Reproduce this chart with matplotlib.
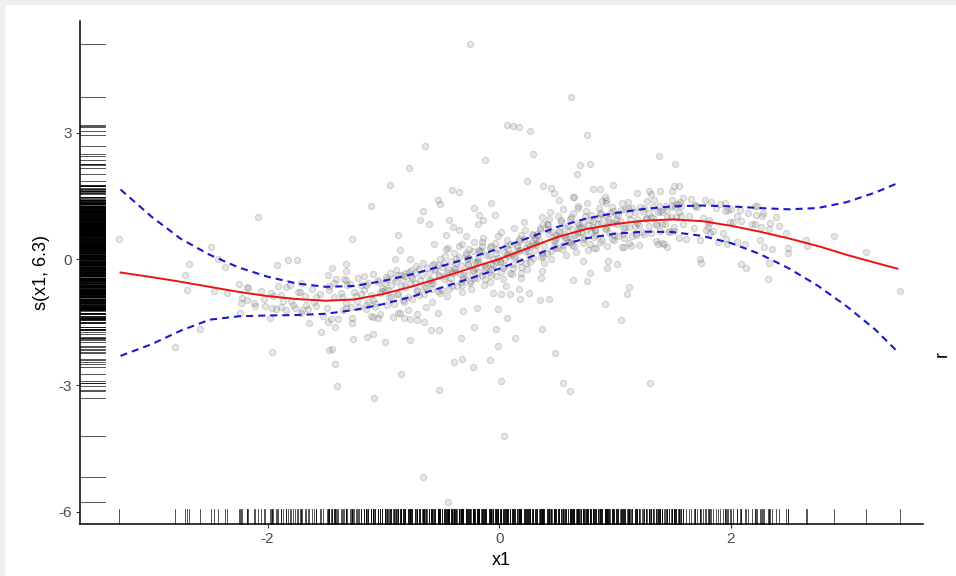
import matplotlib.pyplot as plt
from matplotlib.patches import Rectangle
from matplotlib.transforms import blended_transform_factory

# partial residuals (x1, residual), sparse points left of the bulk
left_pts = [
    (-3.28, 0.48), (-2.80, -2.10), (-2.71, -0.38), (-2.70, -0.73), (-2.68, -0.13),
    (-2.58, -1.65), (-2.49, 0.29), (-2.46, -0.77), (-2.43, -0.01), (-2.37, -0.20),
    (-2.35, -0.80), (-2.25, -0.59), (-2.24, -1.29), (-2.23, -1.04), (-2.22, -0.92),
    (-2.18, -0.67), (-2.18, -0.97), (-2.11, -1.11), (-2.08, 1.00), (-2.03, -0.96),
    (-1.98, -1.40), (-1.96, -2.21), (-1.96, -1.16), (-1.95, -0.88), (-1.92, -0.15),
    (-1.91, -0.63), (-1.88, -1.15), (-1.87, -1.00), (-1.84, -0.67), (-1.82, -0.02),
    (-1.80, -1.00), (-1.76, -1.16), (-1.75, -0.02), (-1.72, -0.78), (-1.71, -0.56),
    (-1.70, -1.21), (-1.67, -1.09), (-1.64, -1.51), (-1.60, -1.01), (-1.58, -0.89),
    (-1.54, -1.74), (-1.48, -0.37), (-1.48, -1.49), (-1.47, -0.74), (-1.47, -2.16),
]

# points scattered away from the fitted band
sparse_pts = [
    (-0.25, 5.11), (0.62, 3.85), (0.04, -4.20), (-0.66, -5.18), (-0.44, -5.76),
    (-0.64, 2.68), (-0.12, 2.36), (-0.78, 2.16), (-0.94, 1.76), (-0.41, 1.65),
    (-0.35, 1.59), (-1.11, 1.25), (-0.53, 1.39), (-0.51, 1.31), (-0.66, 1.13),
    (-0.68, 0.93), (-0.61, 0.83), (-1.27, 0.48), (-0.87, 0.56), (-0.86, 0.21),
    (-0.90, 0.01), (-0.77, -0.01), (-0.43, 0.92), (-0.40, 0.75), (-0.35, 0.69),
    (-0.46, 0.57), (-0.29, 0.54), (-0.56, 0.36), (-0.22, 1.21), (-0.17, 1.05),
    (-0.14, 0.92), (-0.18, 0.82), (-0.07, 1.32), (-0.04, 1.05), (-0.32, 0.36),
    (-0.15, 0.40), (-0.44, 0.25), (-1.44, -0.22), (-1.32, -0.11), (-1.32, -0.28),
    (-1.32, -0.50), (-1.15, -0.62), (-0.98, -0.43), (-1.43, -0.58), (-1.42, -1.61),
    (-1.26, -1.91), (-1.14, -1.84), (-1.09, -1.79), (-0.99, -1.96), (-1.44, -2.14),
    (-1.42, -2.49), (-1.40, -3.01), (-1.08, -3.29), (-0.85, -2.72), (-0.77, -1.92),
    (-0.52, -3.10), (-0.59, -1.69), (-0.52, -1.69), (-0.71, -1.30), (-0.71, -1.45),
    (-0.65, -1.50), (-0.33, -1.88), (-0.22, -1.62), (-0.39, -2.45), (-0.32, -2.37),
    (-0.23, -2.56), (-0.08, -2.39), (-0.03, -1.67), (-0.01, -2.07), (-0.31, -1.24),
    (-0.53, -1.27), (-0.82, -1.41), (-0.77, -1.43), (-1.09, -1.37), (-1.05, -1.39),
    (-1.27, -1.51), (-0.87, -1.27), (-0.19, -1.17), (0.02, -2.90), (0.55, -2.94),
    (0.61, -3.14), (0.48, -2.22), (0.14, -1.87), (0.37, -1.66), (1.05, -1.44),
    (0.91, -1.06), (1.10, -0.83), (1.12, -0.67), (0.35, -0.98), (0.43, -0.96),
    (0.18, -0.96), (0.26, -0.81), (0.07, -1.40), (1.30, -2.95),
    (-0.87, -0.38), (-0.81, -0.34), (-0.76, -0.25), (-0.58, -0.15), (-0.23, 0.19),
    (-0.17, 0.19), (-0.07, 0.31), (-0.26, 0.02),
    (0.07, 3.19), (0.12, 3.16), (0.17, 3.13), (0.27, 3.05), (0.76, 2.95),
    (0.29, 2.49), (0.70, 2.23), (0.78, 2.25), (0.67, 2.03), (0.24, 1.86),
    (0.38, 1.74), (0.45, 1.68), (0.47, 1.56), (0.81, 1.66), (0.87, 1.66),
    (0.98, 1.75), (0.65, 1.48), (1.38, 2.45), (1.19, 1.57), (1.29, 1.61),
    (1.39, 1.62), (0.52, 1.39), (0.64, 1.47), (0.91, 1.48), (0.92, 1.33),
    (0.68, 1.22), (1.06, 0.28), (1.12, 0.37), (1.41, 0.37),
    (-0.01, -1.19), (-0.05, -0.81), (0.02, -0.83), (0.09, -0.84), (0.17, -0.70),
    (0.06, -0.64), (0.64, -0.50), (0.76, -0.53), (0.78, -0.32), (0.93, -0.21),
    (0.94, -0.04), (1.02, -0.13), (0.36, -0.46), (0.37, -0.29), (0.19, -0.45),
    (0.19, -0.34), (0.72, -0.04), (0.84, 0.26), (1.35, 0.43), (1.45, 0.28),
    (1.52, 2.26), (1.51, 1.74), (1.55, 1.74), (1.49, 1.61), (1.31, 1.55),
    (1.73, 0.01), (1.74, -0.09), (2.09, -0.13), (2.13, -0.21), (2.32, -0.47),
    (2.33, -0.10), (2.49, 0.25), (2.49, 0.15), (2.48, 0.62), (2.42, 0.78),
    (2.34, 0.86), (2.65, 0.45), (2.66, 0.32), (2.89, 0.54), (3.17, 0.17),
    (3.46, -0.75), (2.25, 0.45), (2.21, 0.83), (2.28, 1.10), (2.27, 1.01),
    (2.21, 1.26), (2.05, 1.03), (2.09, 0.90), (1.98, 1.16), (2.00, 1.19),
    (1.95, 1.32), (1.96, 0.47), (1.82, 0.61), (1.80, 0.76), (1.81, 0.85),
    (1.69, 1.27), (1.56, 1.36), (1.52, 1.24), (1.54, 1.31), (2.23, 1.25),
]

# the dense band of residuals around the smooth
band_pts = [
    (-2.17, -0.68), (-2.12, -1.05), (-2.06, -0.75), (-2.02, -1.12), (-1.97, -0.80),
    (-1.93, -1.18), (-1.88, -0.86), (-1.84, -1.21), (-1.81, -0.62), (-1.78, -1.08),
    (-1.74, -0.79), (-1.71, -1.28), (-1.68, -0.88), (-1.65, -1.19), (-1.62, -0.71),
    (-1.58, -1.12), (-1.55, -0.82), (-1.52, -1.36),
    (-1.49, -1.17), (-1.47, -0.63), (-1.45, -1.43), (-1.43, -0.90), (-1.41, -0.48),
    (-1.39, -1.42), (-1.36, -0.89), (-1.34, -0.47), (-1.32, -1.16), (-1.31, -0.62),
    (-1.29, -0.60), (-1.27, -1.40), (-1.24, -0.87), (-1.22, -0.45), (-1.21, -1.14),
    (-1.19, -0.83), (-1.17, -0.41), (-1.15, -1.10), (-1.13, -0.56), (-1.11, -1.36),
    (-1.09, -0.35), (-1.07, -1.04), (-1.05, -0.50), (-1.03, -1.30), (-1.01, -0.77),
    (-0.99, -0.57), (-0.97, -1.10), (-0.96, -0.74), (-0.94, -0.33), (-0.93, -0.91),
    (-0.92, -1.37), (-0.91, -0.46),
    (-0.89, -0.25), (-0.88, -0.83), (-0.86, -1.29), (-0.85, -0.38), (-0.83, -0.49),
    (-0.82, -1.02), (-0.81, -0.66),
    (-0.79, -1.21), (-0.78, -0.30), (-0.76, -0.41), (-0.75, -0.94), (-0.73, -0.58),
    (-0.72, -0.17), (-0.71, -0.75),
    (-0.69, -0.86), (-0.68, -0.50), (-0.66, -0.09), (-0.65, -0.67), (-0.63, -1.13),
    (-0.62, -0.22), (-0.61, -0.33),
    (-0.59, -0.57), (-0.58, -1.03), (-0.56, -0.12), (-0.55, -0.23), (-0.53, -0.76),
    (-0.52, -0.40), (-0.51, 0.01),
    (-0.49, -0.74), (-0.44, -0.24), (-0.47, 0.06), (-0.42, -0.45), (-0.48, -0.09),
    (-0.45, -0.88), (-0.41, -0.33), (-0.46, 0.23), (-0.43, -0.57),
    (-0.39, 0.15), (-0.34, -0.36), (-0.37, 0.01), (-0.32, -0.79), (-0.38, -0.24),
    (-0.35, 0.32), (-0.31, -0.48), (-0.36, -0.65), (-0.33, -0.15),
    (-0.29, 0.10), (-0.24, -0.70), (-0.27, -0.15), (-0.22, 0.41), (-0.28, -0.39),
    (-0.25, -0.56), (-0.21, -0.06), (-0.26, 0.24), (-0.23, -0.27),
    (-0.19, -0.07), (-0.14, 0.49), (-0.17, -0.31), (-0.12, -0.48), (-0.18, 0.03),
    (-0.15, 0.32), (-0.11, -0.19), (-0.16, 0.18), (-0.13, -0.62),
    (-0.09, 0.09), (-0.04, 0.38), (-0.07, -0.12), (-0.02, 0.24), (-0.08, -0.55),
    (-0.05, 0.00), (-0.01, 0.55), (-0.06, -0.24), (-0.03, -0.41),
    (0.01, -0.04), (0.06, 0.32), (0.03, -0.47), (0.08, 0.08), (0.02, 0.63),
    (0.05, -0.16), (0.09, -0.33), (0.04, 0.17), (0.07, 0.46),
    (0.11, -0.36), (0.16, 0.19), (0.13, 0.74), (0.18, -0.05), (0.12, -0.22),
    (0.15, 0.28), (0.19, 0.57), (0.14, 0.07), (0.17, 0.43),
    (0.21, 0.87), (0.26, 0.08), (0.23, -0.09), (0.28, 0.41), (0.22, 0.70),
    (0.25, 0.20), (0.29, 0.56), (0.24, -0.23), (0.27, 0.32),
    (0.31, 0.21), (0.36, 0.04), (0.33, 0.54), (0.38, 0.83), (0.32, 0.33),
    (0.35, 0.69), (0.39, -0.10), (0.34, 0.45), (0.37, 1.00),
    (0.41, 0.15), (0.46, 0.65), (0.43, 0.94), (0.48, 0.44), (0.42, 0.80),
    (0.45, 0.01), (0.49, 0.56), (0.44, 1.11), (0.47, 0.32),
    (0.51, 1.02), (0.56, 0.52), (0.53, 0.88), (0.58, 0.09), (0.52, 0.64),
    (0.55, 1.19), (0.59, 0.40), (0.54, 0.23), (0.57, 0.73),
    (0.61, 0.95), (0.66, 0.16), (0.63, 0.71), (0.68, 1.26), (0.62, 0.47),
    (0.65, 0.30), (0.69, 0.80), (0.64, 1.09), (0.67, 0.59),
    (0.71, 0.77), (0.76, 1.32), (0.73, 0.53), (0.78, 0.36), (0.72, 0.86),
    (0.75, 1.15), (0.79, 0.65), (0.74, 1.01), (0.77, 0.22),
    (0.81, 0.91), (0.86, 1.20), (0.83, 0.70), (0.88, 1.06), (0.82, 0.27),
    (0.85, 0.82), (0.89, 1.37), (0.84, 0.58), (0.87, 0.41),
    (0.91, 0.74), (0.96, 1.10), (0.93, 0.31), (0.98, 0.86), (0.92, 1.41),
    (0.95, 0.62), (0.99, 0.45), (0.94, 0.95), (0.97, 1.24),
    (1.01, 1.08), (1.03, 0.55), (1.04, 0.91), (1.06, 1.32), (1.07, 0.74),
    (1.08, 0.28), (1.09, 1.19),
    (1.11, 1.35), (1.12, 0.77), (1.14, 0.31), (1.15, 1.22), (1.17, 1.11),
    (1.18, 0.58), (1.19, 0.94),
    (1.21, 0.33), (1.22, 1.24), (1.24, 1.13), (1.25, 0.60), (1.27, 0.96),
    (1.28, 1.37), (1.29, 0.79),
    (1.31, 0.62), (1.33, 0.98), (1.34, 1.39), (1.36, 0.81), (1.37, 0.35),
    (1.38, 1.26), (1.39, 1.15),
    (1.41, 0.82), (1.42, 0.36), (1.44, 1.27), (1.45, 1.16), (1.47, 0.63),
    (1.48, 0.99), (1.49, 1.40),
    (1.51, 0.76), (1.53, 1.30), (1.55, 0.50), (1.57, 1.03), (1.59, 1.45),
    (1.61, 0.48), (1.64, 1.01), (1.66, 1.43), (1.68, 0.74), (1.69, 1.28),
    (1.71, 1.24), (1.73, 0.44), (1.76, 0.97), (1.78, 1.39), (1.79, 0.70),
    (1.81, 0.92), (1.83, 1.35), (1.85, 0.66), (1.87, 1.20), (1.89, 0.40),
    (1.91, 1.30), (1.93, 0.61), (1.95, 1.15), (1.97, 0.35), (1.99, 0.88),
    (2.02, 0.88), (2.05, 0.41), (2.08, 1.16), (2.12, 0.35), (2.15, 1.10),
    (2.18, 0.82), (2.22, 1.04), (2.26, 0.76), (2.29, 0.29), (2.33, 0.71),
    (2.36, 0.24), (2.39, 0.99),
]

# tightly packed residuals hugging the smooth in the middle of the range
core_pts = [
    (-1.37, -0.80), (-1.35, -1.22), (-1.32, -1.05), (-1.28, -1.14), (-1.25, -0.78),
    (-1.23, -1.00),
    (-1.17, -0.74), (-1.15, -1.19), (-1.19, -0.61), (-1.13, -1.03), (-1.11, -0.86),
    (-1.07, -1.13), (-1.05, -0.55), (-1.09, -0.97), (-1.03, -0.80), (-1.01, -0.68),
    (-0.97, -0.48), (-0.95, -0.90), (-0.99, -0.73), (-0.93, -0.61), (-0.91, -1.06),
    (-0.87, -0.82), (-0.85, -0.65), (-0.89, -0.53), (-0.83, -0.98), (-0.81, -0.40),
    (-0.77, -0.57), (-0.75, -0.45), (-0.79, -0.90), (-0.73, -0.32), (-0.71, -0.74),
    (-0.67, -0.37), (-0.65, -0.82), (-0.69, -0.24), (-0.63, -0.66), (-0.61, -0.49),
    (-0.55, -0.27), (-0.58, -0.72), (-0.52, -0.39), (-0.57, -0.56), (-0.53, -0.14),
    (-0.59, -0.49), (-0.51, -0.80),
    (-0.45, -0.30), (-0.48, -0.47), (-0.42, -0.05), (-0.47, -0.40), (-0.43, -0.71),
    (-0.49, -0.18), (-0.41, -0.63),
    (-0.35, 0.05), (-0.38, -0.31), (-0.32, -0.62), (-0.37, -0.09), (-0.33, -0.54),
    (-0.39, -0.21), (-0.31, -0.38),
    (-0.25, -0.53), (-0.28, 0.01), (-0.22, -0.45), (-0.27, -0.12), (-0.23, -0.29),
    (-0.29, 0.14), (-0.21, -0.22),
    (-0.15, -0.37), (-0.18, -0.04), (-0.12, -0.21), (-0.17, 0.22), (-0.13, -0.14),
    (-0.19, -0.45), (-0.11, 0.09),
    (-0.05, -0.14), (-0.08, 0.28), (-0.02, -0.07), (-0.07, -0.38), (-0.03, 0.15),
    (-0.09, -0.30), (-0.01, 0.03),
    (0.05, 0.01), (0.02, -0.30), (0.08, 0.23), (0.03, -0.22), (0.07, 0.11),
    (0.01, -0.06), (0.09, 0.36),
    (0.15, 0.34), (0.12, -0.11), (0.18, 0.22), (0.13, 0.05), (0.17, 0.47),
    (0.11, 0.12), (0.19, -0.19),
    (0.25, 0.35), (0.22, 0.18), (0.28, 0.60), (0.23, 0.25), (0.27, -0.06),
    (0.21, 0.47), (0.29, 0.02),
    (0.35, 0.73), (0.32, 0.38), (0.38, 0.07), (0.33, 0.60), (0.37, 0.15),
    (0.31, 0.48), (0.39, 0.31),
    (0.45, 0.18), (0.42, 0.71), (0.48, 0.26), (0.43, 0.59), (0.47, 0.42),
    (0.41, 0.84), (0.49, 0.49),
    (0.55, 0.34), (0.52, 0.67), (0.58, 0.50), (0.53, 0.92), (0.57, 0.57),
    (0.51, 0.26), (0.59, 0.79),
    (0.65, 0.57), (0.62, 0.99), (0.68, 0.64), (0.63, 0.33), (0.67, 0.86),
    (0.61, 0.41), (0.69, 0.74),
    (0.75, 0.70), (0.72, 0.39), (0.78, 0.92), (0.73, 0.47), (0.77, 0.80),
    (0.71, 0.63), (0.79, 1.05),
    (0.85, 0.97), (0.82, 0.52), (0.88, 0.85), (0.83, 0.68), (0.87, 1.10),
    (0.81, 0.75), (0.89, 0.44),
    (0.95, 0.89), (0.92, 0.72), (0.98, 1.14), (0.93, 0.79), (0.97, 0.48),
    (0.91, 1.01), (0.99, 0.56),
    (1.05, 1.17), (1.02, 0.82), (1.08, 0.51), (1.03, 1.04), (1.07, 0.59),
    (1.01, 0.92), (1.09, 0.75),
    (1.15, 0.54), (1.12, 1.07), (1.18, 0.62), (1.13, 0.95), (1.17, 0.78),
    (1.11, 1.20), (1.19, 0.85),
    (1.23, 0.64), (1.25, 1.22), (1.21, 0.80), (1.27, 0.97), (1.29, 1.09),
    (1.33, 1.24), (1.35, 0.82), (1.31, 0.99), (1.37, 1.11), (1.39, 0.66),
    (1.43, 0.83), (1.45, 1.00), (1.41, 1.12), (1.47, 0.67), (1.49, 1.25),
    (1.53, 1.00), (1.55, 1.12), (1.51, 0.67), (1.57, 1.25), (1.59, 0.83),
]

# fitted smooth s(x1) and its confidence limits
smooth_x = [-3.27, -3.0, -2.75, -2.5, -2.25, -2.0, -1.75, -1.5, -1.25, -1.0,
            -0.75, -0.5, -0.25, 0.0, 0.25, 0.5, 0.75, 1.0, 1.25, 1.5,
            1.75, 2.0, 2.25, 2.5, 2.75, 3.0, 3.25, 3.44]
smooth_fit = [-0.32, -0.43, -0.54, -0.66, -0.78, -0.88, -0.95, -0.99, -0.96, -0.83,
              -0.65, -0.44, -0.22, 0.00, 0.26, 0.52, 0.71, 0.83, 0.91, 0.94,
              0.90, 0.79, 0.65, 0.49, 0.31, 0.10, -0.09, -0.23]
smooth_upper = [1.65, 1.00, 0.48, 0.10, -0.20, -0.42, -0.58, -0.66, -0.64, -0.52,
                -0.36, -0.17, 0.03, 0.25, 0.50, 0.76, 0.96, 1.09, 1.19, 1.25,
                1.27, 1.25, 1.21, 1.18, 1.21, 1.35, 1.58, 1.80]
smooth_lower = [-2.30, -2.02, -1.70, -1.44, -1.36, -1.34, -1.33, -1.30, -1.21, -1.07,
                -0.89, -0.68, -0.46, -0.23, 0.03, 0.30, 0.49, 0.60, 0.65, 0.64,
                0.55, 0.38, 0.12, -0.22, -0.63, -1.12, -1.68, -2.20]

x_ticks = [-2, 0, 2]
y_ticks = [-6, -3, 0, 3]

plt.rcParams["font.family"] = ["Liberation Sans", "DejaVu Sans"]
plt.rcParams["axes.unicode_minus"] = False

pts = left_pts + sparse_pts + band_pts + core_pts
px = [p[0] for p in pts]
py = [p[1] for p in pts]

fig = plt.figure(figsize=(9.56, 5.76), dpi=100)
fig.patch.set_facecolor("white")
# grey strips along the left and top edges
fig.add_artist(Rectangle((0, 0), 4 / 956, 1, transform=fig.transFigure,
                         color="#efefef", zorder=0))
fig.add_artist(Rectangle((0, 1 - 4 / 576), 1, 4 / 576, transform=fig.transFigure,
                         color="#efefef", zorder=0))

ax = fig.add_axes([80 / 956, 52 / 576, 843 / 956, 503 / 576])
ax.set_xlim(-3.62, 3.66)
ax.set_ylim(-6.29, 5.65)

ax.scatter(px, py, s=20, facecolor=(0.35, 0.35, 0.35, 0.15),
           edgecolor=(0.35, 0.35, 0.35, 0.22), linewidths=0.8, zorder=2)

# rugs along both axes
bx = blended_transform_factory(ax.transData, ax.transAxes)
by = blended_transform_factory(ax.transAxes, ax.transData)
for v in px:
    ax.plot([v, v], [0, 0.03], transform=bx, color="black", lw=0.55, alpha=0.85,
            zorder=3, clip_on=False)
for v in py:
    ax.plot([0, 0.03], [v, v], transform=by, color="black", lw=0.55, alpha=0.85,
            zorder=3, clip_on=False)

ax.plot(smooth_x, smooth_fit, color="#ee1111", lw=1.4, zorder=4)
for band in (smooth_upper, smooth_lower):
    ax.plot(smooth_x, band, color="#1a1acc", lw=1.5, ls=(0, (3.4, 2.4)), zorder=4)

for side in ("top", "right"):
    ax.spines[side].set_visible(False)
for side in ("left", "bottom"):
    ax.spines[side].set_linewidth(1.1)
    ax.spines[side].set_color("black")

ax.set_xticks(x_ticks)
ax.set_yticks(y_ticks)
ax.tick_params(length=3, width=0.8, color="#333333", labelcolor="#4d4d4d",
               labelsize=11, pad=3)
ax.set_xlabel("x1", fontsize=13, labelpad=4)
ax.set_ylabel("s(x1, 6.3)", fontsize=13, labelpad=6)
fig.text(942 / 956, 1 - 354 / 576, "r", rotation=90, fontsize=13,
         ha="center", va="center")

fig.savefig("out.png", dpi=100)
